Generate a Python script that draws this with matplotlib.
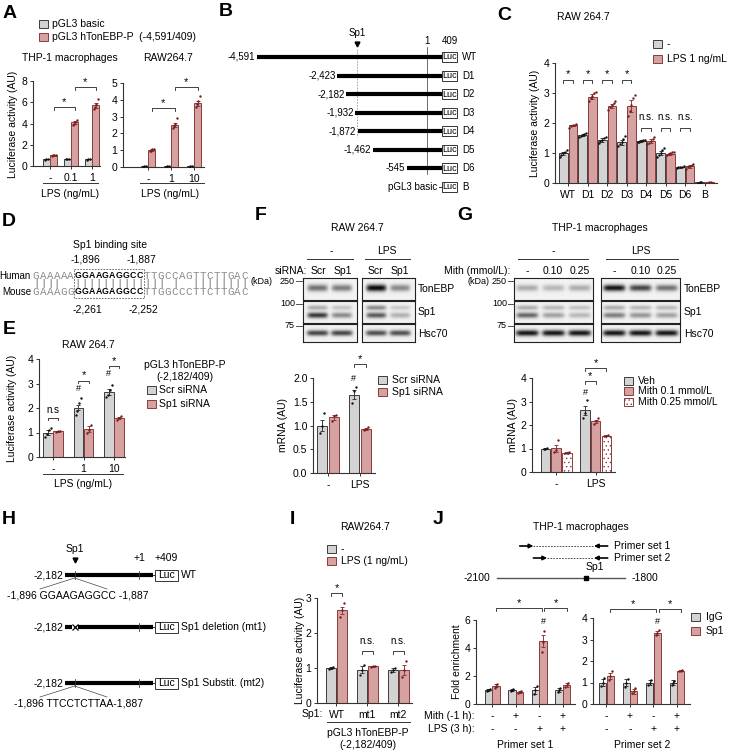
import numpy as np
import matplotlib
matplotlib.use('Agg')
import matplotlib.pyplot as plt
from matplotlib.patches import Rectangle

plt.rcParams['font.family'] = ['Liberation Sans', 'DejaVu Sans']
plt.rcParams['hatch.linewidth'] = 0.5
plt.rcParams['axes.unicode_minus'] = False

# ======================= DATA =======================
# Panel A
A_thp_doses = ['-', '0.1', '1']
A_raw_doses = ['-', '1', '10']
A_thp_basic = [0.65, 0.65, 0.66]
A_thp_basic_err = [0.03, 0.03, 0.03]
A_thp_basic_dots = [[0.6, 0.65, 0.7], [0.62, 0.66, 0.7], [0.6, 0.66, 0.7]]
A_thp_prom = [1.0, 4.1, 5.7]
A_thp_prom_err = [0.05, 0.15, 0.25]
A_thp_prom_dots = [[0.93, 1.0, 1.05, 1.02], [3.9, 4.0, 4.15, 4.35], [5.4, 5.6, 5.8, 6.3]]
A_raw_basic = [0.03, 0.03, 0.03]
A_raw_basic_err = [0.005, 0.005, 0.005]
A_raw_basic_dots = [[0.02, 0.03, 0.04], [0.02, 0.03, 0.04], [0.02, 0.03, 0.04]]
A_raw_prom = [1.0, 2.5, 3.8]
A_raw_prom_err = [0.05, 0.12, 0.15]
A_raw_prom_dots = [[0.93, 0.98, 1.05, 1.1], [2.35, 2.45, 2.55, 2.9], [3.6, 3.75, 3.9, 4.25]]

# Panel B
B_names = ['WT', 'D1', 'D2', 'D3', 'D4', 'D5', 'D6', 'B']
B_starts = [-4591, -2423, -2182, -1932, -1872, -1462, -545]
B_start_labels = ['-4,591', '-2,423', '-2,182', '-1,932', '-1,872', '-1,462', '-545']
B_end = 409
B_sp1 = -1896

# Panel C
C_cats = ['WT', 'D1', 'D2', 'D3', 'D4', 'D5', 'D6', 'B']
C_ctrl = [1.0, 1.6, 1.43, 1.36, 1.4, 1.0, 0.53, 0.02]
C_ctrl_err = [0.05, 0.03, 0.06, 0.08, 0.03, 0.07, 0.02, 0.004]
C_ctrl_dots = [[0.88, 0.95, 1.0, 1.05, 1.1], [1.55, 1.58, 1.6, 1.63, 1.66], [1.33, 1.4, 1.45, 1.5, 1.55],
               [1.22, 1.3, 1.38, 1.46, 1.56], [1.36, 1.38, 1.4, 1.42, 1.45], [0.88, 0.95, 1.0, 1.1, 1.17],
               [0.5, 0.52, 0.53, 0.55, 0.57], [0.015, 0.02, 0.025]]
C_lps = [1.92, 2.88, 2.57, 2.58, 1.4, 0.98, 0.56, 0.02]
C_lps_err = [0.03, 0.08, 0.07, 0.2, 0.06, 0.03, 0.05, 0.004]
C_lps_dots = [[1.85, 1.9, 1.93, 1.95, 1.98], [2.75, 2.82, 2.9, 3.0, 3.05], [2.45, 2.52, 2.6, 2.68, 2.75],
              [2.22, 2.4, 2.6, 2.82, 2.95], [1.3, 1.35, 1.4, 1.47, 1.55], [0.92, 0.96, 0.99, 1.02, 1.05],
              [0.48, 0.52, 0.56, 0.6, 0.65], [0.015, 0.02, 0.025]]
C_sig = ['*', '*', '*', '*', 'n.s.', 'n.s.', 'n.s.', '']

# Panel D
D_human = 'GAAAAAGGAAGAGGCCTTGCCAGTTCTTGAC'
D_mouse = 'GAAAGGGGAAGAGGCCTTGGCCCTTCTTGAC'
D_core = (6, 16)

# Panel E
E_doses = ['-', '1', '10']
E_scr = [1.0, 2.02, 2.65]
E_scr_err = [0.12, 0.12, 0.12]
E_scr_dots = [[0.8, 0.95, 1.12, 1.2], [1.72, 1.88, 2.2, 2.4], [2.45, 2.55, 2.75, 2.95]]
E_sp1 = [1.05, 1.15, 1.6]
E_sp1_err = [0.02, 0.12, 0.05]
E_sp1_dots = [[1.03, 1.05, 1.07], [1.0, 1.12, 1.32], [1.52, 1.6, 1.66]]

# Panel F
F_groups = ['-', 'LPS']
F_scr = [1.0, 1.65]
F_scr_err = [0.12, 0.1]
F_scr_dots = [[0.85, 1.0, 1.27], [1.48, 1.72, 1.82]]
F_sp1 = [1.17, 0.93]
F_sp1_err = [0.05, 0.02]
F_sp1_dots = [[1.1, 1.2, 1.22], [0.9, 0.93, 0.96]]
F_blot_TonEBP = [0.55, 0.5, 1.0, 0.45]
F_blot_Sp1_up = [0.3, 0.2, 0.45, 0.18]
F_blot_Sp1_low = [0.8, 0.45, 0.65, 0.28]
F_blot_Hsc70 = [0.75, 0.75, 0.7, 0.7]

# Panel G
G_groups = ['-', 'LPS']
G_veh = [1.0, 2.62]
G_veh_err = [0.01, 0.2]
G_veh_dots = [[0.99, 1.0, 1.01], [2.3, 2.5, 3.05]]
G_m01 = [1.02, 2.15]
G_m01_err = [0.15, 0.08]
G_m01_dots = [[0.85, 0.95, 1.35], [2.05, 2.15, 2.3]]
G_m025 = [0.82, 1.55]
G_m025_err = [0.03, 0.03]
G_m025_dots = [[0.8, 0.82, 0.84], [1.52, 1.55, 1.58]]
G_blot_TonEBP = [0.3, 0.25, 0.3, 0.95, 0.75, 0.55]
G_blot_Sp1_up = [0.3, 0.25, 0.2, 0.3, 0.25, 0.25]
G_blot_Sp1_low = [0.6, 0.35, 0.25, 0.5, 0.4, 0.35]
G_blot_Hsc70 = [0.95, 0.95, 0.95, 0.95, 0.95, 0.95]

# Panel H
H_start = -2182
H_end = 409
H_sp1 = -1896

# Panel I
I_cats = ['WT', 'mt1', 'mt2']
I_ctrl = [1.0, 0.95, 0.95]
I_ctrl_err = [0.02, 0.1, 0.05]
I_ctrl_dots = [[0.98, 1.0, 1.02], [0.8, 0.95, 1.08], [0.9, 0.95, 1.0]]
I_lps = [2.65, 1.05, 0.95]
I_lps_err = [0.1, 0.02, 0.15]
I_lps_dots = [[2.45, 2.65, 2.85], [1.03, 1.05, 1.07], [0.75, 0.95, 1.2]]

# Panel J
J_mith = ['-', '+', '-', '+']
J_lps = ['-', '-', '+', '+']
J1_igg = [1.0, 1.0, 1.0, 1.0]
J1_igg_err = [0.1, 0.08, 0.25, 0.15]
J1_igg_dots = [[0.9, 1.0, 1.1], [0.93, 1.0, 1.07], [0.7, 1.0, 1.3], [0.85, 1.0, 1.15]]
J1_sp1 = [1.3, 0.85, 4.5, 1.35]
J1_sp1_err = [0.12, 0.05, 0.45, 0.15]
J1_sp1_dots = [[1.15, 1.3, 1.45], [0.8, 0.85, 0.9], [3.7, 4.4, 5.2], [1.2, 1.35, 1.5]]
J2_igg = [1.0, 1.0, 1.0, 1.0]
J2_igg_err = [0.15, 0.15, 0.1, 0.1]
J2_igg_dots = [[0.85, 1.0, 1.2], [0.8, 1.0, 1.15], [0.9, 1.0, 1.1], [0.9, 1.0, 1.05]]
J2_sp1 = [1.3, 0.6, 3.3, 1.55]
J2_sp1_err = [0.15, 0.12, 0.1, 0.03]
J2_sp1_dots = [[1.1, 1.3, 1.55], [0.5, 0.6, 0.75], [3.2, 3.3, 3.45], [1.52, 1.55, 1.58]]
J_region = (-2100, -1800)
J_sp1 = -1891
J_primer1 = (-2046, -1841)
J_primer2 = (-2014, -1841)

# ======================= STYLE =======================
FS = 7.5
GRAY_FC, GRAY_EC, GRAY_DOT = '#d3d3d3', '#3c3c3c', '#111111'
PINK_FC, PINK_EC, PINK_DOT = '#d6a1a1', '#8c3c3c', '#7a1c1c'

W, H = 729, 754
fig = plt.figure(figsize=(W / 100, H / 100), dpi=100)


def pax(x0, y0, x1, y1):
    ax = fig.add_axes([x0 / W, 1 - y1 / H, (x1 - x0) / W, (y1 - y0) / H])
    ax.patch.set_alpha(0)
    return ax


ov = pax(0, 0, W, H)
ov.set_xlim(0, W)
ov.set_ylim(H, 0)
ov.axis('off')
ov.set_zorder(20)


def T(x, y, s, fs=FS, ha='center', va='center', **kw):
    ov.text(x, y, s, fontsize=fs, ha=ha, va=va, **kw)


def swatch(x, y, fc, ec, hatch=None, w=9, h=8):
    ov.add_patch(Rectangle((x, y - h / 2), w, h, facecolor=fc, edgecolor=ec, lw=0.7, hatch=hatch))


def hline(x0, x1, y, lw=0.7):
    ov.plot([x0, x1], [y, y], color='#333', lw=lw)


def letter(x, y, s):
    T(x, y, s, fs=14, fontweight='bold')


def ser(vals, err, dots, kind):
    if kind == 'gray':
        return dict(vals=vals, err=err, dots=dots, fc=GRAY_FC, ec=GRAY_EC, dot=GRAY_DOT)
    if kind == 'pink':
        return dict(vals=vals, err=err, dots=dots, fc=PINK_FC, ec=PINK_EC, dot=PINK_DOT)
    return dict(vals=vals, err=err, dots=dots, fc='white', ec=PINK_EC, dot=PINK_DOT, hatch='....')


def barchart(rect, series, offsets, width, xlim, ylim, yticks, ytl=None, xtl=None):
    ax = pax(*rect)
    for s, off in zip(series, offsets):
        x = np.arange(len(s['vals'])) + off
        ax.bar(x, s['vals'], width, color=s['fc'], edgecolor=s['ec'], linewidth=0.7,
               hatch=s.get('hatch'), zorder=2)
        ax.errorbar(x, s['vals'], yerr=s['err'], fmt='none', ecolor=s['ec'], elinewidth=0.7,
                    capsize=1.5, capthick=0.7, zorder=3)
        for xi, d in zip(x, s['dots']):
            k = len(d)
            jit = (np.arange(k) - (k - 1) / 2) * width * 0.2
            ax.scatter(xi + jit, d, s=3, color=s['dot'], zorder=4, linewidths=0)
    ax.set_xlim(*xlim)
    ax.set_ylim(*ylim)
    ax.set_yticks(yticks)
    if ytl is not None:
        ax.set_yticklabels(ytl)
    for sp in ['top', 'right']:
        ax.spines[sp].set_visible(False)
    for sp in ['left', 'bottom']:
        ax.spines[sp].set_linewidth(0.8)
        ax.spines[sp].set_color('#333')
    ax.tick_params(axis='both', labelsize=FS, length=2.5, width=0.7, color='#333', pad=1.5)
    n = len(series[0]['vals'])
    ax.set_xticks(np.arange(n))
    if xtl is not None:
        ax.set_xticklabels(xtl)
        ax.tick_params(axis='x', pad=2.5)
    else:
        ax.set_xticklabels([''] * n)
    return ax


def bracket(ax, x1, x2, y, txt, h, fs=8, gap=0.0):
    ax.plot([x1, x1, x2, x2], [y - h, y, y, y - h], color='#222', lw=0.6, clip_on=False, zorder=5)
    if txt:
        ax.text((x1 + x2) / 2, y + gap, txt, ha='center', va='bottom', fontsize=fs, clip_on=False)


def mark(ax, x, y, s='#', fs=6.5):
    ax.text(x, y, s, ha='center', va='bottom', fontsize=fs, clip_on=False)


# ======================= PANEL A =======================
letter(10, 13, 'A')
swatch(39, 24, GRAY_FC, GRAY_EC)
T(52, 24, 'pGL3 basic', ha='left')
swatch(39, 37, PINK_FC, PINK_EC)
T(52, 37, 'pGL3 hTonEBP-P  (-4,591/409)', ha='left')
T(70, 58, 'THP-1 macrophages')
T(168, 58, 'RAW264.7')
T(13, 124, 'Luciferase activity (AU)', rotation=90)

axA1 = barchart((33, 81, 100, 166),
                [ser(A_thp_basic, A_thp_basic_err, A_thp_basic_dots, 'gray'),
                 ser(A_thp_prom, A_thp_prom_err, A_thp_prom_dots, 'pink')],
                [-0.17, 0.17], 0.33, (-0.81, 2.38), (0, 8), [0, 2, 4, 6, 8], xtl=A_thp_doses)
bracket(axA1, 0.17, 1.17, 5.55, '*', 0.3)
bracket(axA1, 1.17, 2.17, 7.45, '*', 0.3)
hline(43, 98, 183)
T(70, 194, 'LPS (ng/mL)')

axA2 = barchart((123, 83, 204, 167),
                [ser(A_raw_basic, A_raw_basic_err, A_raw_basic_dots, 'gray'),
                 ser(A_raw_prom, A_raw_prom_err, A_raw_prom_dots, 'pink')],
                [-0.16, 0.16], 0.3, (-1.09, 2.43), (0, 5), [0, 1, 2, 3, 4, 5], xtl=A_raw_doses)
bracket(axA2, 0.16, 1.16, 3.5, '*', 0.18)
bracket(axA2, 1.16, 2.16, 4.75, '*', 0.18)
hline(140, 204, 183)
T(170, 194, 'LPS (ng/mL)')

# ======================= PANEL B =======================
letter(226, 11, 'B')
pxbp = 0.03702
axB = pax(200, 25, 490, 197)
axB.set_xlim(1 - 227 / pxbp, 1 + 63 / pxbp)
axB.set_ylim(7.539, -1.723)
axB.axis('off')
box_w = 15 / pxbp
axB.plot([1, 1], [-0.55, 6.3], color='#555', lw=0.6, zorder=1)
axB.plot([B_sp1, B_sp1], [-0.45, 4.3], color='#999', lw=0.6, ls=(0, (2, 1.5)), zorder=1)
axB.plot([B_sp1], [-0.72], marker='v', color='k', ms=3.5)
axB.text(B_sp1, -1.3, 'Sp1', ha='center', va='center', fontsize=7)
axB.text(1, -0.86, '1', ha='center', va='center', fontsize=7)
axB.text(B_end + box_w / 2, -0.86, '409', ha='center', va='center', fontsize=7)
for i, name in enumerate(B_names):
    if i < len(B_starts):
        axB.plot([B_starts[i], B_end], [i, i], color='k', lw=3.0, solid_capstyle='butt', zorder=2)
        axB.text(B_starts[i] - 40, i, B_start_labels[i], ha='right', va='center', fontsize=7)
    else:
        axB.plot([B_end - 90, B_end], [i, i], color='#333', lw=0.7)
        axB.text(B_end - 120, i, 'pGL3 basic', ha='right', va='center', fontsize=7)
    axB.add_patch(Rectangle((B_end, i - 0.27), box_w, 0.54, facecolor='white', edgecolor='#333', lw=0.7, zorder=3))
    axB.text(B_end + box_w / 2, i, 'Luc', ha='center', va='center', fontsize=6.5, zorder=4)
    axB.text(B_end + box_w + 140, i, name, ha='left', va='center', fontsize=7)

# ======================= PANEL C =======================
letter(504, 15, 'C')
T(583, 17, 'RAW 264.7')
swatch(653, 44, GRAY_FC, GRAY_EC)
T(667, 44, '-', ha='left')
swatch(653, 59, PINK_FC, PINK_EC)
T(667, 59, 'LPS 1 ng/mL', ha='left')
T(535, 123, 'Luciferase activity (AU)', rotation=90)
axC = barchart((555, 63, 717, 183),
               [ser(C_ctrl, C_ctrl_err, C_ctrl_dots, 'gray'),
                ser(C_lps, C_lps_err, C_lps_dots, 'pink')],
               [-0.25, 0.25], 0.45, (-0.67, 7.64), (0, 4), [0, 1, 2, 3, 4], xtl=C_cats)
for i, s in enumerate(C_sig):
    if s == '*':
        bracket(axC, i - 0.25, i + 0.25, 3.45, '*', 0.12)
    elif s:
        bracket(axC, i - 0.25, i + 0.25, 1.85, '', 0.12)
        axC.text(i, 2.05, s, ha='center', va='bottom', fontsize=7)

# ======================= PANEL D =======================
letter(9, 222, 'D')
T(110, 245, 'Sp1 binding site')
T(85, 260, '-1,896')
T(141, 260, '-1,887')
T(87, 310, '-2,261')
T(143, 310, '-2,252')
T(31, 276, 'Human', ha='right', fs=7)
T(31, 292, 'Mouse', ha='right', fs=7)
x0, cw = 36.0, 6.95
for k, (ch_h, ch_m) in enumerate(zip(D_human, D_mouse)):
    xc = x0 + k * cw
    core = D_core[0] <= k < D_core[1]
    if core:
        kw = dict(fontweight='bold', color='k', family=['Liberation Sans'], fs=6.3)
    else:
        kw = dict(color='#8a8a8a', family=['Liberation Mono'], fs=7.8)
    T(xc, 276, ch_h, **kw)
    T(xc, 292, ch_m, **kw)
    if ch_h == ch_m:
        T(xc, 284, '|', fs=6.5, color='#555')
ov.add_patch(Rectangle((x0 + D_core[0] * cw - 4, 269), (D_core[1] - D_core[0]) * cw + 1, 29,
                       fill=False, edgecolor='#555', lw=0.6, ls=(0, (2, 1.5))))

# ======================= PANEL E =======================
letter(9, 330, 'E')
T(88, 345, 'RAW 264.7')
T(185, 365, 'pGL3 hTonEBP-P')
T(185, 377, '(-2,182/409)')
swatch(147, 390, GRAY_FC, GRAY_EC)
T(159, 390, 'Scr siRNA', ha='left')
swatch(147, 404, PINK_FC, PINK_EC)
T(159, 404, 'Sp1 siRNA', ha='left')
T(12, 408, 'Luciferase activity (AU)', rotation=90)
axE = barchart((39, 359, 125, 457),
               [ser(E_scr, E_scr_err, E_scr_dots, 'gray'),
                ser(E_sp1, E_sp1_err, E_sp1_dots, 'pink')],
               [-0.17, 0.17], 0.31, (-0.46, 2.36), (0, 4), [0, 1, 2, 3, 4], xtl=E_doses)
bracket(axE, -0.17, 0.17, 1.6, '', 0.1)
axE.text(0, 1.72, 'n.s', ha='center', va='bottom', fontsize=7)
bracket(axE, 0.83, 1.17, 3.12, '*', 0.1)
mark(axE, 0.83, 2.6)
bracket(axE, 1.83, 2.17, 3.72, '*', 0.1)
mark(axE, 1.83, 3.22)
hline(43, 123, 474)
T(83, 484, 'LPS (ng/mL)')


# ======================= BLOTS =======================
def blot(rect, lanes, bands, hw):
    ax = pax(*rect)
    nx, ny = 220, 60
    xx = np.linspace(0, 1, nx)
    yy = np.linspace(0, 1, ny)
    img = np.zeros((ny, nx))
    for yc, sy, ints in bands:
        for xc, a in zip(lanes, ints):
            img += a * np.exp(-((yy[:, None] - yc) / sy) ** 2) * np.exp(-((xx[None, :] - xc) / hw) ** 6)
    img = 0.95 - 0.92 * np.clip(img, 0, 1)
    ax.imshow(img, cmap='gray', vmin=0, vmax=1, aspect='auto', extent=(0, 1, 1, 0), interpolation='bilinear')
    ax.set_xticks([])
    ax.set_yticks([])
    for sp in ax.spines.values():
        sp.set_linewidth(0.8)
        sp.set_color('#222')
    return ax


rows_y = [(278, 300), (301, 323), (324, 342)]
for (bx0, bx1), sl in [((303, 357), slice(0, 2)), ((362, 415), slice(2, 4))]:
    ln = [0.27, 0.72]
    blot((bx0, rows_y[0][0], bx1, rows_y[0][1]), ln, [(0.45, 0.16, F_blot_TonEBP[sl])], 0.19)
    blot((bx0, rows_y[1][0], bx1, rows_y[1][1]), ln,
         [(0.3, 0.11, F_blot_Sp1_up[sl]), (0.65, 0.13, F_blot_Sp1_low[sl])], 0.19)
    blot((bx0, rows_y[2][0], bx1, rows_y[2][1]), ln, [(0.5, 0.16, F_blot_Hsc70[sl])], 0.2)
for (bx0, bx1), sl in [((514, 593), slice(0, 3)), ((601, 680), slice(3, 6))]:
    ln = [1 / 6, 3 / 6, 5 / 6]
    blot((bx0, rows_y[0][0], bx1, rows_y[0][1]), ln, [(0.45, 0.15, G_blot_TonEBP[sl])], 0.14)
    blot((bx0, rows_y[1][0], bx1, rows_y[1][1]), ln,
         [(0.3, 0.11, G_blot_Sp1_up[sl]), (0.65, 0.13, G_blot_Sp1_low[sl])], 0.14)
    blot((bx0, rows_y[2][0], bx1, rows_y[2][1]), ln, [(0.5, 0.17, G_blot_Hsc70[sl])], 0.145)

# ======================= PANEL F =======================
letter(261, 216, 'F')
T(357, 228, 'RAW 264.7')
T(331, 251, '-')
hline(307, 353, 259)
T(387, 251, 'LPS')
hline(365, 410, 259)
T(307, 271, 'siRNA:', ha='right')
for xl, s in zip([318, 343, 375, 400], ['Scr', 'Sp1', 'Scr', 'Sp1']):
    T(xl, 271, s)
T(273, 281, '(kDa)', ha='right', fs=6.5)
for yk, s in [(281, '250'), (304, '100'), (326, '75')]:
    T(295, yk, s, ha='right', fs=6.5)
    ov.plot([296, 302], [yk, yk], color='#333', lw=0.6)
for yk, s in [(289, 'TonEBP'), (312, 'Sp1'), (334, 'Hsc70')]:
    T(418, yk, s, ha='left')
T(283, 425, 'mRNA (AU)', rotation=90)
swatch(378, 380, GRAY_FC, GRAY_EC)
T(392, 380, 'Scr siRNA', ha='left')
swatch(378, 392, PINK_FC, PINK_EC)
T(392, 392, 'Sp1 siRNA', ha='left')
axF = barchart((313, 378, 375, 473),
               [ser(F_scr, F_scr_err, F_scr_dots, 'gray'),
                ser(F_sp1, F_sp1_err, F_sp1_dots, 'pink')],
               [-0.19, 0.19], 0.31, (-0.47, 1.47), (0, 2), [0, 0.5, 1.0, 1.5, 2.0],
               ytl=['0.0', '0.5', '1.0', '1.5', '2.0'], xtl=F_groups)
bracket(axF, 0.81, 1.19, 2.3, '*', 0.07)
mark(axF, 0.81, 1.9)

# ======================= PANEL G =======================
letter(465, 216, 'G')
T(600, 228, 'THP-1 macrophages')
T(553, 251, '-')
hline(518, 588, 259)
T(641, 251, 'LPS')
hline(606, 678, 259)
T(510, 271, 'Mith (mmol/L):', ha='right')
for xl, s in zip([527, 553, 580, 614, 641, 667], ['-', '0.10', '0.25', '-', '0.10', '0.25']):
    T(xl, 271, s)
T(490, 281, '(kDa)', ha='right', fs=6.5)
for yk, s in [(281, '250'), (304, '100'), (326, '75')]:
    T(507, yk, s, ha='right', fs=6.5)
    ov.plot([508, 514], [yk, yk], color='#333', lw=0.6)
for yk, s in [(289, 'TonEBP'), (312, 'Sp1'), (334, 'Hsc70')]:
    T(684, yk, s, ha='left')
T(513, 425, 'mRNA (AU)', rotation=90)
swatch(624, 381, GRAY_FC, GRAY_EC)
T(638, 381, 'Veh', ha='left')
swatch(624, 391, PINK_FC, PINK_EC)
T(638, 391, 'Mith 0.1 mmol/L', ha='left')
swatch(624, 402, 'white', PINK_EC, hatch='....')
T(638, 402, 'Mith 0.25 mmol/L', ha='left')
axG = barchart((532, 378, 615, 472),
               [ser(G_veh, G_veh_err, G_veh_dots, 'gray'),
                ser(G_m01, G_m01_err, G_m01_dots, 'pink'),
                ser(G_m025, G_m025_err, G_m025_dots, 'dot')],
               [-0.27, 0.0, 0.27], 0.24, (-0.61, 1.49), (0, 4), [0, 1, 2, 3, 4], xtl=G_groups)
bracket(axG, 0.73, 1.0, 3.87, '*', 0.12)
bracket(axG, 0.73, 1.27, 4.43, '*', 0.12)
mark(axG, 0.73, 3.2)

# ======================= PANEL H =======================
letter(9, 519, 'H')
Hpx = 0.0339
axH = pax(0, 530, 235, 715)
axH.set_xlim(H_start - 65 / Hpx, H_start + 170 / Hpx)
axH.set_ylim(715, 530)
axH.axis('off')
H_rows = [575, 627, 683]
H_names = ['WT', 'Sp1 deletion (mt1)', 'Sp1 Substit. (mt2)']
H_seqs = ['-1,896 GGAAGAGGCC -1,887', None, '-1,896 TTCCTCTTAA-1,887']
hbox = 23 / Hpx
for r, name, seq in zip(H_rows, H_names, H_seqs):
    if seq is None:
        axH.plot([H_start, H_sp1 - 90], [r, r], color='k', lw=3.0, solid_capstyle='butt')
        axH.plot([H_sp1 + 90, H_end], [r, r], color='k', lw=3.0, solid_capstyle='butt')
        axH.plot([H_sp1], [r], marker='x', color='k', ms=4, mew=0.9)
    else:
        axH.plot([H_start, H_end], [r, r], color='k', lw=3.0, solid_capstyle='butt')
        axH.plot([H_sp1, H_sp1], [r - 4, r + 4], color='#444', lw=0.6)
        axH.plot([H_sp1, H_start - 25 / Hpx], [r + 3, r + 14], color='#444', lw=0.5)
        axH.plot([H_sp1, H_start + 42 / Hpx], [r + 3, r + 14], color='#444', lw=0.5)
        axH.text(H_start + 13 / Hpx, r + 20, seq, ha='center', va='center', fontsize=FS)
    axH.plot([1, 1], [r - 4, r + 4], color='#444', lw=0.6)
    axH.text(H_start - 40, r, '-2,182', ha='right', va='center', fontsize=FS)
    axH.plot([H_end, H_end + 60], [r, r], color='#333', lw=0.7)
    axH.add_patch(Rectangle((H_end + 60, r - 5.5), hbox, 11, facecolor='white', edgecolor='#333', lw=0.7))
    axH.text(H_end + 60 + hbox / 2, r, 'Luc', ha='center', va='center', fontsize=FS)
    axH.text(H_end + 60 + hbox + 90, r, name, ha='left', va='center', fontsize=FS)
r0 = H_rows[0]
axH.plot([H_sp1], [r0 - 15], marker='v', color='k', ms=3.5)
axH.text(H_sp1, r0 - 26, 'Sp1', ha='center', va='center', fontsize=FS)
axH.text(1, r0 - 17, '+1', ha='center', va='center', fontsize=FS)
axH.text(H_end + 60 + hbox / 2, r0 - 17, '+409', ha='center', va='center', fontsize=FS)

# ======================= PANEL I =======================
letter(292, 519, 'I')
T(365, 527, 'RAW264.7')
swatch(327, 549, GRAY_FC, GRAY_EC)
T(341, 549, '-', ha='left')
swatch(327, 561, PINK_FC, PINK_EC)
T(341, 561, 'LPS (1 ng/mL)', ha='left')
T(300, 650, 'Luciferase activity (AU)', rotation=90)
axI = barchart((317, 598, 412, 703),
               [ser(I_ctrl, I_ctrl_err, I_ctrl_dots, 'gray'),
                ser(I_lps, I_lps_err, I_lps_dots, 'pink')],
               [-0.18, 0.18], 0.33, (-0.63, 2.44), (0, 3), [0, 1, 2, 3], xtl=I_cats)
bracket(axI, -0.18, 0.18, 3.14, '*', 0.09)
for i in [1, 2]:
    bracket(axI, i - 0.18, i + 0.18, 1.5, '', 0.09)
    axI.text(i, 1.62, 'n.s.', ha='center', va='bottom', fontsize=7)
T(323, 714, 'Sp1:', ha='right')
hline(327, 410, 722)
T(368, 733, 'pGL3 hTonEBP-P')
T(368, 745, '(-2,182/409)')

# ======================= PANEL J =======================
letter(438, 519, 'J')
T(581, 527, 'THP-1 macrophages')
Jpx = 0.4633
axJm = pax(478, 535, 729, 592)
axJm.set_xlim(J_region[0] - 20 / Jpx, J_region[0] + 251 / Jpx)
axJm.set_ylim(592, 535)
axJm.axis('off')
axJm.plot(list(J_region), [578, 578], color='#555', lw=1.0)
axJm.plot([J_sp1], [578], marker='s', color='k', ms=3.5)
axJm.text(J_sp1 + 20, 567, 'Sp1', ha='center', va='center', fontsize=FS)
axJm.text(J_region[0] - 15, 578, '-2100', ha='right', va='center', fontsize=FS)
axJm.text(J_region[1] + 15, 578, '-1800', ha='left', va='center', fontsize=FS)
alen = 32
for (fwd, rev), yy, lab in [(J_primer1, 546, 'Primer set 1'), (J_primer2, 558, 'Primer set 2')]:
    axJm.annotate('', xy=(fwd + alen, yy), xytext=(fwd, yy),
                  arrowprops=dict(arrowstyle='-|>', lw=1.2, color='k', mutation_scale=6, shrinkA=0, shrinkB=0))
    axJm.annotate('', xy=(rev - alen, yy), xytext=(rev, yy),
                  arrowprops=dict(arrowstyle='-|>', lw=1.2, color='k', mutation_scale=6, shrinkA=0, shrinkB=0))
    axJm.plot([fwd + alen, rev - alen], [yy, yy], color='#333', lw=0.6, ls=(0, (2, 1.5)))
    axJm.text(rev + 15, yy, lab, ha='left', va='center', fontsize=FS)

swatch(691, 617, GRAY_FC, GRAY_EC)
T(706, 617, 'IgG', ha='left')
swatch(691, 631, PINK_FC, PINK_EC)
T(706, 631, 'Sp1', ha='left')
T(457, 662, 'Fold enrichment', rotation=90)

jrects = [(476, 620, 575, 704), (593, 618, 690, 704)]
jxlims = [(-0.69, 3.52), (-0.57, 3.56)]
axJ1 = barchart(jrects[0],
                [ser(J1_igg, J1_igg_err, J1_igg_dots, 'gray'),
                 ser(J1_sp1, J1_sp1_err, J1_sp1_dots, 'pink')],
                [-0.16, 0.16], 0.3, jxlims[0], (0, 6), [0, 2, 4, 6])
bracket(axJ1, 0.16, 2.1, 6.85, '*', 0.2)
bracket(axJ1, 2.22, 3.16, 6.85, '*', 0.2)
mark(axJ1, 2.16, 5.6)
axJ2 = barchart(jrects[1],
                [ser(J2_igg, J2_igg_err, J2_igg_dots, 'gray'),
                 ser(J2_sp1, J2_sp1_err, J2_sp1_dots, 'pink')],
                [-0.16, 0.16], 0.3, jxlims[1], (0, 4), [0, 1, 2, 3, 4])
bracket(axJ2, 0.16, 2.1, 4.4, '*', 0.13)
bracket(axJ2, 2.22, 3.16, 4.4, '*', 0.13)
mark(axJ2, 2.16, 3.62)

for (rx0, ry0, rx1, ry1), (xl0, xl1) in zip(jrects, jxlims):
    for i in range(4):
        px = rx0 + (i - xl0) / (xl1 - xl0) * (rx1 - rx0)
        T(px, 716, J_mith[i])
        T(px, 729, J_lps[i])
T(475, 716, 'Mith (-1 h):', ha='right')
T(475, 729, 'LPS (3 h):', ha='right')
T(525, 745, 'Primer set 1')
T(642, 745, 'Primer set 2')

fig.savefig('out.png', dpi=100)
